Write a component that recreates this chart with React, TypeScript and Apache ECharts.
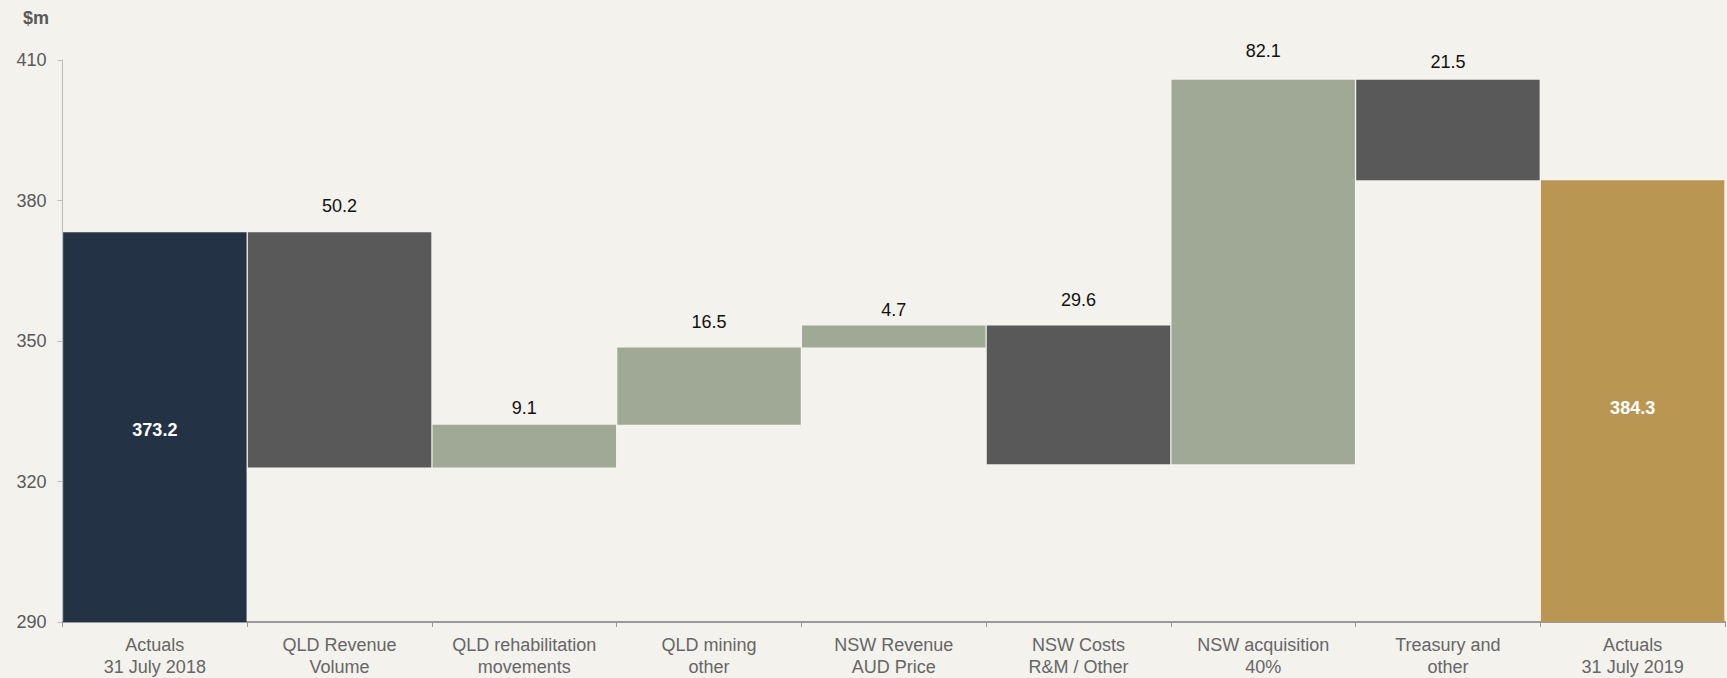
import React, { useEffect, useRef } from "react";
import * as echarts from "echarts";

const categories = [
  "Actuals\n31 July 2018",
  "QLD Revenue\nVolume",
  "QLD rehabilitation\nmovements",
  "QLD mining\nother",
  "NSW Revenue\nAUD Price",
  "NSW Costs\nR&M / Other",
  "NSW acquisition\n40%",
  "Treasury and\nother",
  "Actuals\n31 July 2019",
];
const changes = [373.2, -50.2, 9.1, 16.5, 4.7, -29.6, 82.1, -21.5, 384.3];
const kinds = ["start", "dec", "inc", "inc", "inc", "dec", "inc", "dec", "end"];
const yTicks = [290, 320, 350, 380, 410];
// label styling only: gap above each bar, vertical nudge of inside labels
const labelGaps = [0, 17, 8, 17, 7, 17, 20, 9, 0];
const insideNudge = [3, 0, 0, 0, 0, 0, 0, 0, 7];

const COLORS: Record<string, string> = {
  start: "#233345",
  dec: "#595959",
  inc: "#a0a996",
  end: "#b99752",
};

export default function App() {
  const ref = useRef<HTMLDivElement>(null);
  useEffect(() => {
    if (!ref.current) return;
    const chart = echarts.init(ref.current, undefined, { renderer: "svg" });
    const base: number[] = [];
    const vis: number[] = [];
    let run = 0;
    changes.forEach((c, i) => {
      const k = kinds[i];
      if (k === "start" || k === "end") {
        base.push(0);
        vis.push(c);
        run = c;
      } else {
        const next = run + c;
        base.push(Math.min(run, next));
        vis.push(Math.abs(c));
        run = next;
      }
    });
    const font = "'Liberation Sans', Arial, sans-serif";
    chart.setOption({
      animation: false,
      backgroundColor: "#f3f2ed",
      title: {
        text: "$m",
        left: 18,
        top: 4,
        textStyle: { fontFamily: font, fontSize: 18, fontWeight: "bold", color: "#595959" },
      },
      grid: { left: 62.5, right: 2, top: 60, bottom: 56 },
      xAxis: {
        type: "category",
        data: categories,
        axisLine: { lineStyle: { color: "#999999", width: 2 } },
        axisTick: { show: true, length: 5, lineStyle: { color: "#999999" } },
        axisLabel: {
          fontFamily: font,
          fontSize: 18,
          color: "#666666",
          lineHeight: 22,
          margin: 12,
          interval: 0,
        },
      },
      yAxis: {
        type: "value",
        min: yTicks[0],
        max: yTicks[yTicks.length - 1],
        interval: 30,
        splitLine: { show: false },
        axisLine: { show: true, lineStyle: { color: "#bbbbbb" } },
        axisTick: { show: true, length: 5, lineStyle: { color: "#bbbbbb" } },
        axisLabel: { fontFamily: font, fontSize: 18, color: "#595959", margin: 16 },
      },
      series: [
        {
          type: "bar",
          stack: "w",
          data: base,
          itemStyle: { color: "transparent" },
          barCategoryGap: "0.7%",
          silent: true,
        },
        {
          type: "bar",
          stack: "w",
          barCategoryGap: "0.7%",
          data: vis.map((v, i) => {
            const k = kinds[i];
            const isTotal = k === "start" || k === "end";
            return {
              value: v,
              itemStyle: { color: COLORS[k] },
              label: isTotal
                ? {
                    show: true,
                    position: "inside",
                    offset: [0, insideNudge[i]],
                    color: "#ffffff",
                    fontWeight: "bold",
                    fontSize: 18,
                    fontFamily: font,
                    formatter: () => changes[i].toFixed(1),
                  }
                : {
                    show: true,
                    position: "top",
                    distance: labelGaps[i],
                    color: "#111111",
                    fontSize: 18,
                    fontFamily: font,
                    formatter: () => Math.abs(changes[i]).toFixed(1),
                  },
            };
          }),
        },
      ],
    });
    return () => chart.dispose();
  }, []);
  return <div ref={ref} style={{ width: 1727, height: 678, position: "absolute", left: 0, top: 0 }} />;
}
